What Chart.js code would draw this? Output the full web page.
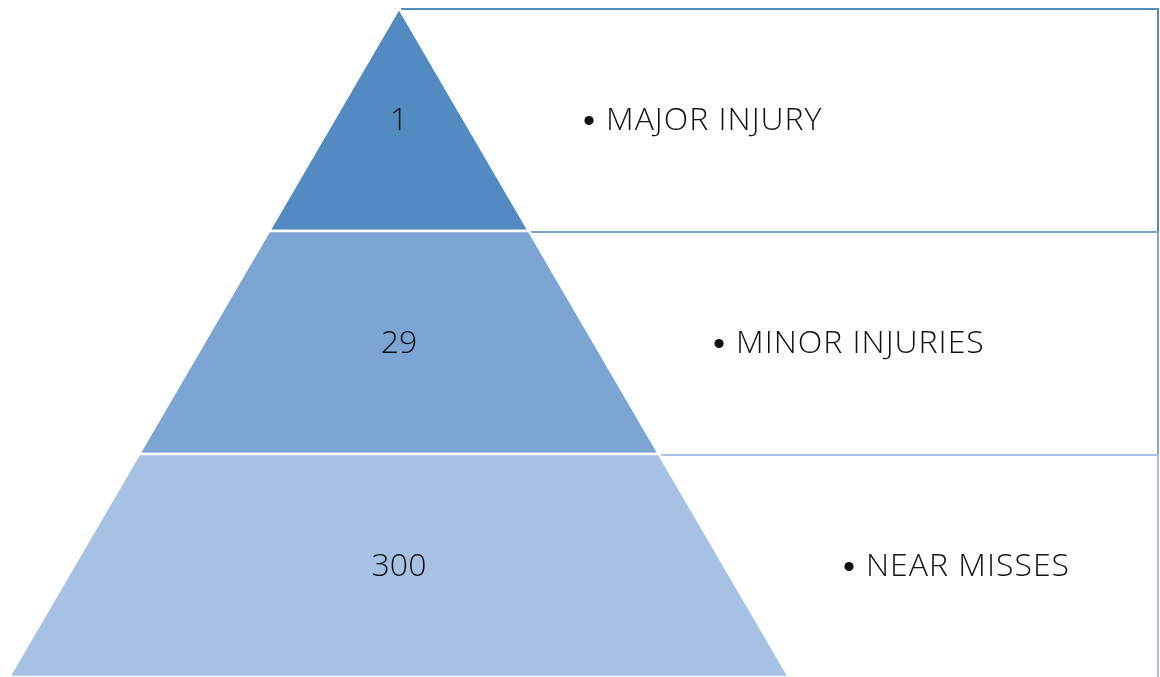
<!DOCTYPE html>
<html>
<head>
<meta charset="utf-8">
<script src="https://cdn.jsdelivr.net/npm/chart.js@4.4.1/dist/chart.umd.min.js"></script>
<style>
  html, body { margin: 0; padding: 0; background: #ffffff; }
  #wrap { width: 1160px; height: 677px; position: relative; }
</style>
</head>
<body>
<div id="wrap"><canvas id="c"></canvas></div>
<script>
// ---- data ----
const tierLabels = ['MAJOR INJURY', 'MINOR INJURIES', 'NEAR MISSES'];
const tierCounts = [1, 29, 300];
const tierColors = ['#528BC1', '#7BA6D3', '#A6C1E4'];

// ---- layout (style, not data) ----
const APEX_FRAC = 399 / 1160;     // apex x as fraction of width
const HALF_BASE = 390;            // half width of pyramid base in px
const BOX_RIGHT = 1158;
const LABEL_GAP = 55;
const FONT = '300 32px "Open Sans", "Noto Sans", sans-serif';

const pyramidPlugin = {
  id: 'pyramid',
  beforeDatasetsDraw(chart) {
    const ctx = chart.ctx;
    const area = chart.chartArea;
    const yScale = chart.scales.y;
    const n = tierLabels.length;
    const top = area.top, bottom = area.bottom;
    const H = bottom - top;
    const cx = area.left + (area.right - area.left) * APEX_FRAC;
    const halfAt = (y) => HALF_BASE * (y - top) / H;
    const band = H / n;
    const bounds = tierLabels.map((_, i) => {
      const c = yScale.getPixelForValue(i);
      return [c - band / 2, c + band / 2];
    });

    ctx.save();
    // boxes
    bounds.forEach(([y0, y1], i) => {
      ctx.strokeStyle = tierColors[i];
      ctx.lineWidth = 2;
      ctx.fillStyle = '#ffffff';
      ctx.beginPath();
      ctx.rect(cx + 1, y0 + 1, BOX_RIGHT - cx - 1, y1 - y0 + (i === n - 1 ? 20 : 0));
      ctx.fill();
      ctx.stroke();
    });
    // pyramid tiers
    bounds.forEach(([y0, y1], i) => {
      ctx.beginPath();
      ctx.moveTo(cx - halfAt(y0), y0);
      ctx.lineTo(cx + halfAt(y0), y0);
      ctx.lineTo(cx + halfAt(y1), y1);
      ctx.lineTo(cx - halfAt(y1), y1);
      ctx.closePath();
      ctx.fillStyle = tierColors[i];
      ctx.fill();
      ctx.strokeStyle = '#ffffff';
      ctx.lineWidth = 2.5;
      ctx.stroke();
    });
    // texts
    ctx.fillStyle = '#111111';
    ctx.textBaseline = 'middle';
    bounds.forEach(([y0, y1], i) => {
      const yc = (y0 + y1) / 2 + 1;
      ctx.font = FONT;
      ctx.letterSpacing = '0px';
      ctx.textAlign = 'center';
      ctx.fillText(String(tierCounts[i]), cx, yc);
      const lx = cx + halfAt(y1) + LABEL_GAP;
      ctx.beginPath();
      ctx.arc(lx + 5, yc, 4.6, 0, Math.PI * 2);
      ctx.fill();
      ctx.textAlign = 'left';
      ctx.letterSpacing = '1px';
      ctx.fillText(tierLabels[i], lx + 22, yc);
    });
    ctx.restore();
  }
};

new Chart(document.getElementById('c'), {
  type: 'bar',
  data: {
    labels: tierLabels,
    datasets: [{
      data: tierCounts,
      backgroundColor: 'rgba(0,0,0,0)',
      borderWidth: 0
    }]
  },
  options: {
    indexAxis: 'y',
    responsive: true,
    maintainAspectRatio: false,
    animation: false,
    layout: { padding: { top: 8, bottom: -3, left: 0, right: 0 } },
    plugins: { legend: { display: false }, tooltip: { enabled: false } },
    scales: {
      x: { display: false, min: 0, max: 1000 },
      y: { display: false, offset: true }
    }
  },
  plugins: [pyramidPlugin]
});
</script>
</body>
</html>
